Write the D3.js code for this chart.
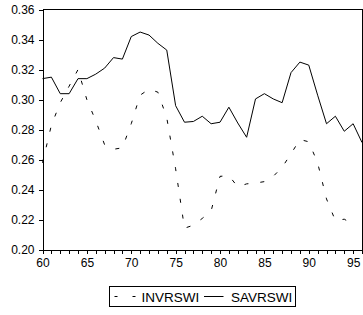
<!DOCTYPE html>
<html>
<head>
<meta charset="utf-8">
<script src="https://cdn.jsdelivr.net/npm/d3@7"></script>
<style>
  html, body { margin: 0; padding: 0; background: #fff; }
  svg { display: block; font-family: "Liberation Sans", Arial, sans-serif; }
  .axis text { font-size: 12px; fill: #000; font-family: "Liberation Sans", Arial, sans-serif; }
  .axis path, .axis line { stroke: #000; shape-rendering: crispEdges; }
</style>
</head>
<body>
<div id="chart"></div>
<script>
// Years 1960-1996 (two-digit labels)
const years = d3.range(60, 97);
const savYears = years;
const invYears = d3.range(60, 96);

// Savings rate (solid)
const savrswi = [0.314, 0.315, 0.304, 0.304, 0.314, 0.314, 0.317, 0.321, 0.328, 0.327,
                 0.342, 0.345, 0.343, 0.3375, 0.333, 0.296, 0.285, 0.2855, 0.289, 0.284,
                 0.285, 0.295, 0.2845, 0.275, 0.3005, 0.304, 0.3005, 0.298, 0.318, 0.325,
                 0.323, 0.303, 0.284, 0.289, 0.279, 0.284, 0.2715];

// Investment rate (dashed)
const invrswi = [0.258, 0.283, 0.298, 0.309, 0.320, 0.300, 0.286, 0.270, 0.267, 0.268,
                 0.284, 0.303, 0.307, 0.305, 0.288, 0.254, 0.2145, 0.2165, 0.221, 0.226,
                 0.249, 0.2495, 0.242, 0.244, 0.2445, 0.2455, 0.249, 0.255, 0.264, 0.2735,
                 0.272, 0.258, 0.234, 0.2195, 0.2205, 0.217];

const yTicks = [0.20, 0.22, 0.24, 0.26, 0.28, 0.30, 0.32, 0.34, 0.36];
const xLabels = [60, 65, 70, 75, 80, 85, 90, 95];
const seriesNames = ["INVRSWI", "SAVRSWI"];

const W = 363, H = 315;
const plot = { left: 42.5, right: 362, top: 9.5, bottom: 250 };

const svg = d3.select("#chart").append("svg")
    .attr("width", W)
    .attr("height", H);

const x = d3.scaleLinear().domain([60, 96]).range([plot.left, plot.right]);
const y = d3.scaleLinear().domain([0.20, 0.36]).range([plot.bottom, plot.top]);

// frame (top and right)
svg.append("path")
    .attr("d", `M${plot.left},${plot.top}H${plot.right}V${plot.bottom}`)
    .attr("fill", "none")
    .attr("stroke", "#000")
    .attr("shape-rendering", "crispEdges");

// Y axis
svg.append("g")
    .attr("class", "axis")
    .attr("transform", `translate(${plot.left},0)`)
    .call(d3.axisLeft(y).tickValues(yTicks).tickFormat(d3.format(".2f"))
        .tickSize(4).tickSizeOuter(0).tickPadding(4));

// X axis - a tick every year, labels every five
svg.append("g")
    .attr("class", "axis")
    .attr("transform", `translate(0,${plot.bottom})`)
    .call(d3.axisBottom(x).tickValues(years)
        .tickFormat(d => xLabels.includes(d) ? d : "")
        .tickSize(4).tickSizeOuter(0).tickPadding(4));

// lines
const line = d3.line()
    .x(d => x(d[0]))
    .y(d => y(d[1]));

svg.append("path")
    .datum(invYears.map((yr, i) => [yr, invrswi[i]]))
    .attr("d", line)
    .attr("fill", "none")
    .attr("stroke", "#000")
    .attr("stroke-width", 1)
    .attr("stroke-dasharray", "4,12");

svg.append("path")
    .datum(savYears.map((yr, i) => [yr, savrswi[i]]))
    .attr("d", line)
    .attr("fill", "none")
    .attr("stroke", "#000")
    .attr("stroke-width", 1);

// legend
const legend = svg.append("g").attr("transform", "translate(109.5,286.5)");
legend.append("rect")
    .attr("width", 186)
    .attr("height", 19.5)
    .attr("fill", "#fff")
    .attr("stroke", "#000")
    .attr("shape-rendering", "crispEdges");

legend.append("line")
    .attr("x1", 5).attr("x2", 28)
    .attr("y1", 10).attr("y2", 10)
    .attr("stroke", "#000")
    .attr("stroke-dasharray", "3,15");
legend.append("text")
    .attr("x", 32).attr("y", 15)
    .style("font-size", "13.5px")
    .text(seriesNames[0]);

legend.append("line")
    .attr("x1", 94.5).attr("x2", 114)
    .attr("y1", 10).attr("y2", 10)
    .attr("stroke", "#000");
legend.append("text")
    .attr("x", 121.5).attr("y", 15)
    .style("font-size", "13.5px")
    .text(seriesNames[1]);
</script>
</body>
</html>
